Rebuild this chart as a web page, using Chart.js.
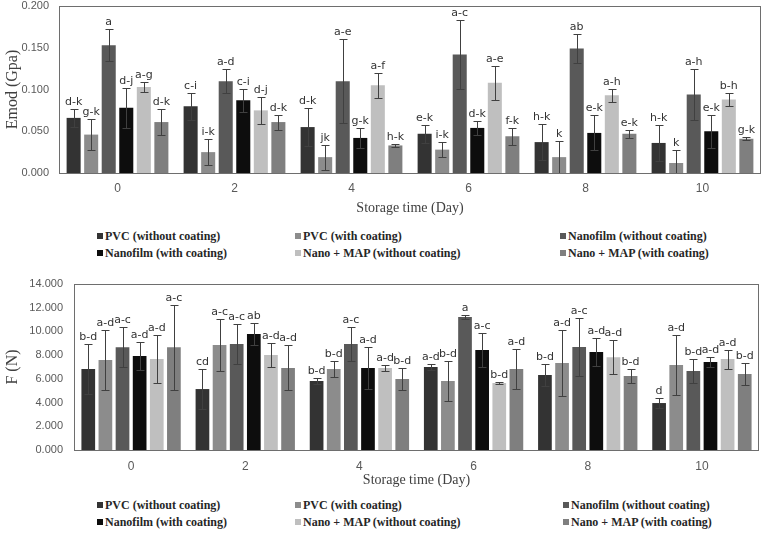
<!DOCTYPE html>
<html>
<head>
<meta charset="utf-8">
<script src="https://cdn.jsdelivr.net/npm/chart.js@4.4.0/dist/chart.umd.min.js"></script>
<style>
  body { margin: 0; background: #fff; width: 763px; height: 537px; position: relative; overflow: hidden; }
  .wrap { position: absolute; left: 0; width: 763px; height: 222px; }
  #wrap1 { top: 0; }
  #wrap2 { top: 270px; }
  .legend { position: absolute; left: 0; width: 763px; height: 40px; font: bold 12px "Liberation Serif", serif; color: #262626; }
  .legend span { position: absolute; white-space: nowrap; line-height: 14px; }
  .legend i { display: inline-block; width: 6px; height: 6px; margin-right: 2px; vertical-align: 1px; }
</style>
</head>
<body>
<div class="wrap" id="wrap1"><canvas id="emodChart" width="763" height="222"></canvas></div>
<div class="legend" id="legend1" style="top:229px"></div>
<div class="wrap" id="wrap2"><canvas id="forceChart" width="763" height="222"></canvas></div>
<div class="legend" id="legend2" style="top:498px"></div>
<script>
// Storage days and treatments
const days = ['0', '2', '4', '6', '8', '10'];
const treatments = ['PVC (without coating)', 'PVC (with coating)', 'Nanofilm (without coating)',
  'Nanofilm (with coating)', 'Nano + MAP (without coating)', 'Nano + MAP (with coating)'];
const colors = ['#333333', '#8c8c8c', '#595959', '#0d0d0d', '#bfbfbf', '#7f7f7f'];

// Emod (Gpa) - one array per treatment, one value per day
const emodPvcNo    = [0.066, 0.080, 0.055, 0.047, 0.037, 0.036];
const emodPvcCoat  = [0.046, 0.025, 0.019, 0.028, 0.019, 0.012];
const emodNanoNo   = [0.153, 0.110, 0.110, 0.142, 0.149, 0.094];
const emodNanoCoat = [0.078, 0.087, 0.042, 0.054, 0.048, 0.050];
const emodMapNo    = [0.103, 0.075, 0.105, 0.108, 0.093, 0.088];
const emodMapCoat  = [0.061, 0.061, 0.033, 0.044, 0.047, 0.041];

const emodErrPvcNo    = [0.011, 0.016, 0.023, 0.011, 0.022, 0.022];
const emodErrPvcCoat  = [0.019, 0.016, 0.015, 0.009, 0.019, 0.015];
const emodErrNanoNo   = [0.019, 0.014, 0.050, 0.041, 0.017, 0.030];
const emodErrNanoCoat = [0.024, 0.014, 0.012, 0.008, 0.021, 0.020];
const emodErrMapNo    = [0.006, 0.016, 0.015, 0.020, 0.008, 0.008];
const emodErrMapCoat  = [0.016, 0.009, 0.002, 0.010, 0.005, 0.002];

const emodLetPvcNo    = ['d-k', 'c-i', 'd-k', 'e-k', 'h-k', 'h-k'];
const emodLetPvcCoat  = ['g-k', 'i-k', 'jk', 'i-k', 'k', 'k'];
const emodLetNanoNo   = ['a', 'a-d', 'a-e', 'a-c', 'ab', 'a-h'];
const emodLetNanoCoat = ['d-j', 'c-i', 'g-k', 'd-k', 'e-k', 'e-k'];
const emodLetMapNo    = ['a-g', 'd-j', 'a-f', 'a-e', 'a-h', 'b-h'];
const emodLetMapCoat  = ['d-k', 'd-k', 'h-k', 'f-k', 'e-k', 'g-k'];

const emodTicks = [0, 0.05, 0.10, 0.15, 0.20];

// F (N)
const fPvcNo    = [6.83, 5.14, 5.82, 7.00, 6.33, 3.96];
const fPvcCoat  = [7.59, 8.86, 6.83, 5.82, 7.34, 7.17];
const fNanoNo   = [8.66, 8.94, 8.94, 11.22, 8.69, 6.66];
const fNanoCoat = [7.93, 9.78, 6.92, 8.43, 8.27, 7.42];
const fMapNo    = [7.67, 8.01, 6.92, 5.65, 7.82, 7.67];
const fMapCoat  = [8.66, 6.92, 5.99, 6.83, 6.24, 6.41];

const fErrPvcNo    = [2.10, 1.70, 0.25, 0.25, 0.90, 0.40];
const fErrPvcCoat  = [2.50, 2.20, 0.65, 1.70, 2.75, 2.50];
const fErrNanoNo   = [1.70, 1.65, 1.40, 0.15, 2.45, 1.05];
const fErrNanoCoat = [1.20, 0.90, 1.75, 1.40, 1.20, 0.40];
const fErrMapNo    = [2.00, 1.00, 0.25, 0.05, 1.45, 0.80];
const fErrMapCoat  = [3.60, 1.90, 0.95, 1.70, 0.55, 0.90];

const fLetPvcNo    = ['b-d', 'cd', 'b-d', 'a-d', 'b-d', 'd'];
const fLetPvcCoat  = ['a-d', 'a-c', 'b-d', 'b-d', 'a-d', 'a-d'];
const fLetNanoNo   = ['a-c', 'a-c', 'a-c', 'a', 'a-c', 'b-d'];
const fLetNanoCoat = ['a-d', 'ab', 'a-d', 'a-c', 'a-d', 'a-d'];
const fLetMapNo    = ['a-d', 'a-d', 'a-d', 'b-d', 'a-d', 'a-d'];
const fLetMapCoat  = ['a-c', 'a-d', 'b-d', 'a-d', 'b-d', 'b-d'];

const fTicks = [0, 2, 4, 6, 8, 10, 12, 14];

// draws error bars, letters and the plot frame
const errorBarPlugin = {
  id: 'errorBars',
  afterDatasetsDraw(chart) {
    const ctx = chart.ctx;
    const y = chart.scales.y;
    const area = chart.chartArea;
    ctx.save();
    ctx.strokeStyle = '#404040';
    ctx.lineWidth = 1;
    ctx.fillStyle = '#333';
    ctx.font = '11px "DejaVu Sans", sans-serif';
    ctx.textAlign = 'center';
    ctx.textBaseline = 'bottom';
    chart.data.datasets.forEach((ds, di) => {
      const meta = chart.getDatasetMeta(di);
      meta.data.forEach((bar, i) => {
        const v = ds.data[i], e = ds.errors[i];
        const yt = Math.round(y.getPixelForValue(v + e)) + 0.5;
        const yb = Math.round(y.getPixelForValue(Math.max(v - e, 0))) + 0.5;
        const x = Math.round(bar.x) + 0.5;
        ctx.beginPath();
        ctx.moveTo(x, yt); ctx.lineTo(x, yb);
        ctx.moveTo(x - 4, yt); ctx.lineTo(x + 4, yt);
        ctx.moveTo(x - 4, yb); ctx.lineTo(x + 4, yb);
        ctx.stroke();
        ctx.fillText(ds.letters[i], bar.x, yt - 2);
      });
    });
    ctx.strokeStyle = '#6e6e6e';
    ctx.strokeRect(Math.round(area.left) + 0.5, Math.round(area.top) + 0.5,
      Math.round(area.right - area.left) - 1, Math.round(area.bottom - area.top));
    ctx.restore();
  }
};

function makeDatasets(values, errors, letters) {
  return treatments.map((name, i) => ({
    label: name,
    data: values[i],
    errors: errors[i],
    letters: letters[i],
    backgroundColor: colors[i],
    borderWidth: 0,
    categoryPercentage: 0.9,
    barPercentage: 0.8
  }));
}

function makeChart(id, datasets, opt) {
  return new Chart(document.getElementById(id), {
    type: 'bar',
    data: { labels: days, datasets: datasets },
    plugins: [errorBarPlugin],
    options: {
      responsive: false,
      animation: false,
      layout: { padding: { top: opt.top, right: opt.right, left: 0, bottom: 0 } },
      plugins: { legend: { display: false }, tooltip: { enabled: false } },
      scales: {
        x: {
          grid: { display: false, drawTicks: false },
          border: { display: false },
          ticks: { color: '#595959', font: { family: 'Liberation Sans', size: 12 }, padding: opt.xPad },
          title: { display: true, text: 'Storage time (Day)', color: '#404040',
            font: { family: 'Liberation Serif', size: 14 }, padding: { top: 0, bottom: opt.titlePad } },
          afterFit: s => { s.height = opt.xHeight; }
        },
        y: {
          min: 0, max: opt.max,
          grid: { display: false, drawTicks: false },
          border: { display: false },
          afterBuildTicks: s => { s.ticks = opt.ticks.map(v => ({ value: v })); },
          ticks: { color: '#595959', font: { family: 'Liberation Sans', size: 11 }, padding: opt.yPad,
            callback: v => v.toFixed(opt.decimals) },
          title: { display: true, text: opt.yTitle, color: '#404040',
            font: { family: 'Liberation Serif', size: 16 }, padding: { top: opt.yTitlePad, bottom: 0 } },
          afterFit: s => { s.width = opt.yWidth; s.paddingTop = 0; s.paddingBottom = 0; }
        }
      }
    }
  });
}

function makeLegend(id, cols) {
  const el = document.getElementById(id);
  treatments.forEach((name, i) => {
    const s = document.createElement('span');
    s.style.left = cols[i % 3] + 'px';
    s.style.top = (Math.floor(i / 3) * 17) + 'px';
    s.innerHTML = '<i style="background:' + colors[i] + '"></i>' + name;
    el.appendChild(s);
  });
}

makeChart('emodChart',
  makeDatasets([emodPvcNo, emodPvcCoat, emodNanoNo, emodNanoCoat, emodMapNo, emodMapCoat],
    [emodErrPvcNo, emodErrPvcCoat, emodErrNanoNo, emodErrNanoCoat, emodErrMapNo, emodErrMapCoat],
    [emodLetPvcNo, emodLetPvcCoat, emodLetNanoNo, emodLetNanoCoat, emodLetMapNo, emodLetMapCoat]),
  { top: 6, right: 2, max: 0.2, ticks: emodTicks, decimals: 3, yTitle: 'Emod (Gpa)',
    yWidth: 59, yPad: 10, yTitlePad: 3, xHeight: 49, xPad: 8, titlePad: 5 });

makeChart('forceChart',
  makeDatasets([fPvcNo, fPvcCoat, fNanoNo, fNanoCoat, fMapNo, fMapCoat],
    [fErrPvcNo, fErrPvcCoat, fErrNanoNo, fErrNanoCoat, fErrMapNo, fErrMapCoat],
    [fLetPvcNo, fLetPvcCoat, fLetNanoNo, fLetNanoCoat, fLetMapNo, fLetMapCoat]),
  { top: 14, right: 4, max: 14, ticks: fTicks, decimals: 3, yTitle: 'F (N)',
    yWidth: 74, yPad: 11, yTitlePad: 3, xHeight: 42, xPad: 9, titlePad: 3 });

makeLegend('legend1', [97, 295, 560]);
makeLegend('legend2', [97, 295, 563]);
</script>
</body>
</html>
